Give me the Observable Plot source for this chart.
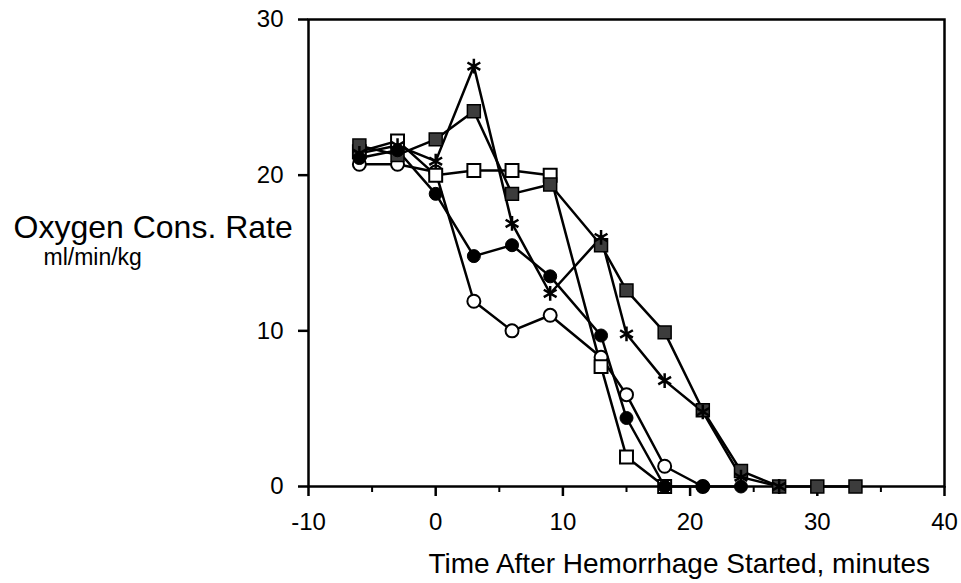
<!DOCTYPE html>
<html>
<head>
<meta charset="utf-8">
<script src="https://cdn.jsdelivr.net/npm/d3@7"></script>
<script src="https://cdn.jsdelivr.net/npm/@observablehq/plot@0.6"></script>
<style>
  html, body { margin: 0; padding: 0; background: #fff; }
  #chart svg { display: block; }
</style>
</head>
<body>
<div id="chart"></div>
<script>
// Time after hemorrhage started (minutes)
const times = [-6, -3, 0, 3, 6, 9, 13, 15, 18, 21, 24, 27, 30, 33];

// Oxygen consumption rate (ml/min/kg) per animal, aligned with `times` (null = no point)
const openCircles   = [20.7, 20.7, 20.2, 11.9, 10.0, 11.0, 8.3, 5.9, 1.3, 0, null, null, null, null];
const filledCircles = [21.1, 21.6, 18.8, 14.8, 15.5, 13.5, 9.7, 4.4, 0, 0, 0, null, null, null];
const openSquares   = [21.5, 22.2, 20.0, 20.3, 20.3, 20.0, 7.7, 1.9, 0, null, null, null, null, null];
const graySquares   = [21.9, 21.3, 22.3, 24.1, 18.8, 19.4, 15.5, 12.6, 9.9, 4.9, 1.0, 0, 0, 0];
const asterisks     = [21.4, 21.9, 20.9, 27.0, 16.9, 12.4, 16.0, 9.8, 6.8, 4.8, 0.6, 0, null, null];

const xMajorTicks = [-10, 0, 10, 20, 30, 40];
const xMinorTicks = [-5, 5, 15, 25, 35];
const yTicks = [0, 10, 20, 30];

const xTitle = "Time After Hemorrhage Started, minutes";
const yTitle1 = "Oxygen Cons. Rate";
const yTitle2 = "ml/min/kg";

function rows(values) {
  return times.map((t, i) => ({t, v: values[i]})).filter(d => d.v != null);
}

const sOC = rows(openCircles), sFC = rows(filledCircles), sOS = rows(openSquares),
      sGS = rows(graySquares), sAS = rows(asterisks);

const lineOpts = {x: "t", y: "v", stroke: "black", strokeWidth: 2.5};

const chart = Plot.plot({
  width: 961,
  height: 583,
  marginLeft: 308,
  marginRight: 17,
  marginTop: 19,
  marginBottom: 97,
  style: {fontFamily: "'Liberation Sans', Arial, sans-serif", background: "white", color: "black"},
  x: {domain: [-10, 40]},
  y: {domain: [0, 30]},
  marks: [
    Plot.frame({stroke: "black", strokeWidth: 2.5}),
    Plot.axisX({ticks: xMajorTicks, tickSize: 10, tickPadding: 16, fontSize: 24, strokeWidth: 2.5,
      tickFormat: d => String(d), label: null}),
    Plot.axisX({ticks: xMinorTicks, tickSize: 6, strokeWidth: 2, tickFormat: () => "", label: null}),
    Plot.axisY({ticks: yTicks, tickSize: 10, tickPadding: 15, fontSize: 24, strokeWidth: 2.5,
      tickFormat: d => String(d), label: null}),
    Plot.text([yTitle1], {frameAnchor: "top-left", textAnchor: "start", lineAnchor: "bottom",
      dx: -295, dy: 218, fontSize: 32, fill: "black"}),
    Plot.text([yTitle2], {frameAnchor: "top-left", textAnchor: "start", lineAnchor: "bottom",
      dx: -265, dy: 245, fontSize: 23, fill: "black"}),
    Plot.text([xTitle], {frameAnchor: "bottom-left", textAnchor: "start", lineAnchor: "bottom",
      dx: 120, dy: 86, fontSize: 28, fill: "black"}),
    Plot.line(sOC, lineOpts),
    Plot.line(sFC, lineOpts),
    Plot.line(sOS, lineOpts),
    Plot.line(sGS, lineOpts),
    Plot.line(sAS, lineOpts),
    Plot.dot(sOC, {x: "t", y: "v", r: 6.5, fill: "white", stroke: "black", strokeWidth: 2}),
    Plot.dot(sOS, {x: "t", y: "v", symbol: "square", r: 7.3, fill: "white", stroke: "black", strokeWidth: 2}),
    Plot.dot(sGS, {x: "t", y: "v", symbol: "square", r: 7.3, fill: "#3c3c3c", stroke: "black", strokeWidth: 1.5}),
    Plot.dot(sAS, {x: "t", y: "v", symbol: "asterisk", r: 7, stroke: "black", strokeWidth: 2.5}),
    Plot.dot(sFC, {x: "t", y: "v", r: 6.5, fill: "black", stroke: "black", strokeWidth: 1})
  ]
});

document.getElementById("chart").appendChild(chart);
</script>
</body>
</html>
